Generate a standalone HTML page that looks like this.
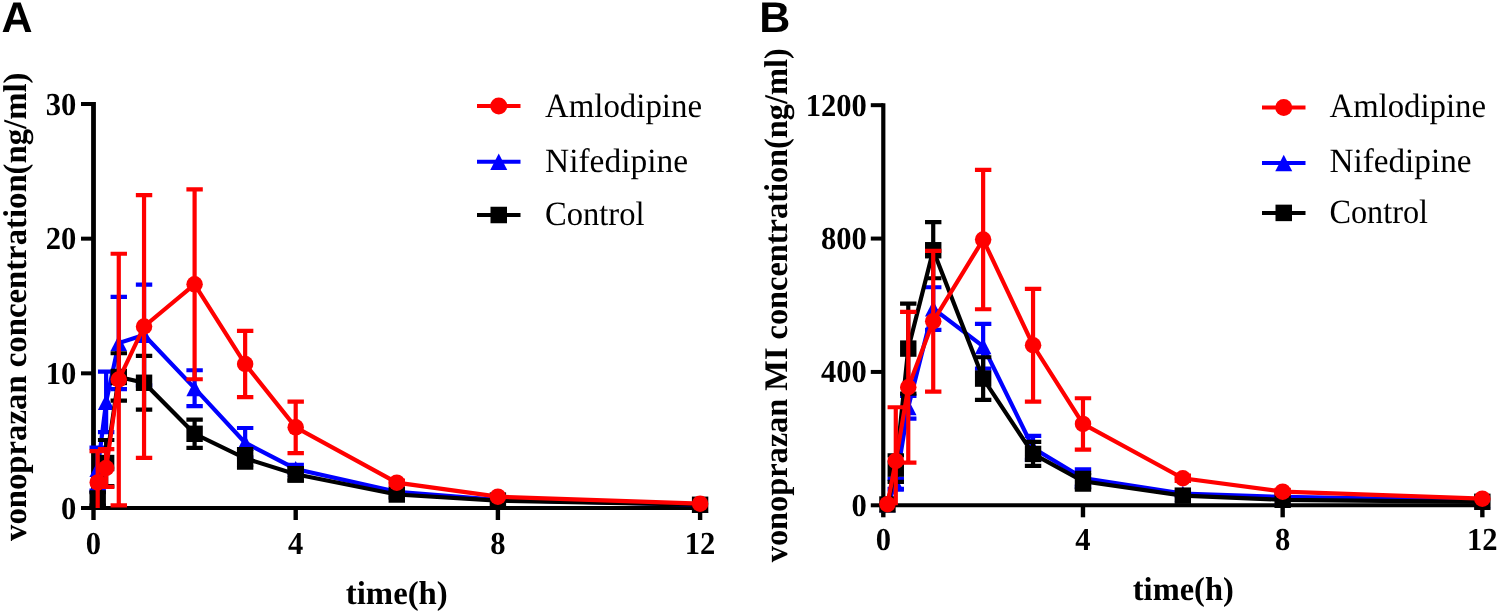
<!DOCTYPE html>
<html><head><meta charset="utf-8"><title>Vonoprazan PK</title><style>html,body{margin:0;padding:0;background:#fff;overflow:hidden}svg{display:block;will-change:transform}</style></head><body>
<svg width="1499" height="614" viewBox="0 0 1499 614">
<style>text{text-rendering:geometricPrecision;font-family:"Liberation Serif",serif;fill:#000}.b{font-weight:bold}.tk{font-weight:bold;font-size:32px}.leg{font-size:34px}.lab{font-weight:bold;font-size:33px}.pl{font-family:"Liberation Sans",sans-serif;font-weight:bold;font-size:43px}</style>
<rect width="1499" height="614" fill="#fff"/>
<text class="pl" x="1.6" y="32.2">A</text>
<text class="pl" x="759.3" y="32.2">B</text>
<path d="M93.5 101.99 V510" stroke="#000" stroke-width="4.8" fill="none"/>
<path d="M91.1 508 H702" stroke="#000" stroke-width="4" fill="none"/>
<path d="M81 508 H93.5" stroke="#000" stroke-width="4" fill="none"/>
<path d="M81 373.33 H93.5" stroke="#000" stroke-width="4" fill="none"/>
<path d="M81 238.66 H93.5" stroke="#000" stroke-width="4" fill="none"/>
<path d="M81 103.99 H93.5" stroke="#000" stroke-width="4" fill="none"/>
<path d="M93.5 508 V520" stroke="#000" stroke-width="4.4" fill="none"/>
<path d="M295.7 508 V520" stroke="#000" stroke-width="4.4" fill="none"/>
<path d="M497.9 508 V520" stroke="#000" stroke-width="4.4" fill="none"/>
<path d="M700.1 508 V520" stroke="#000" stroke-width="4.4" fill="none"/>
<text class="tk" transform="translate(76.3 518.6) scale(0.955 1)" text-anchor="end">0</text>
<text class="tk" transform="translate(76.3 383.93) scale(0.955 1)" text-anchor="end">10</text>
<text class="tk" transform="translate(76.3 249.26) scale(0.955 1)" text-anchor="end">20</text>
<text class="tk" transform="translate(76.3 114.59) scale(0.955 1)" text-anchor="end">30</text>
<text class="tk" transform="translate(93.5 553.7) scale(0.955 1)" text-anchor="middle">0</text>
<text class="tk" transform="translate(295.7 553.7) scale(0.955 1)" text-anchor="middle">4</text>
<text class="tk" transform="translate(497.9 553.7) scale(0.955 1)" text-anchor="middle">8</text>
<text class="tk" transform="translate(700.1 553.7) scale(0.955 1)" text-anchor="middle">12</text>
<text class="lab" transform="translate(26 541) rotate(-90)" textLength="468.5" lengthAdjust="spacingAndGlyphs">vonoprazan concentration(ng/ml)</text>
<text class="lab" x="345.8" y="604" textLength="102" lengthAdjust="spacingAndGlyphs">time(h)</text>
<path d="M477 106 H520.5" stroke="#ff0000" stroke-width="4" fill="none"/>
<circle cx="498.75" cy="106" r="8.5" fill="#ff0000"/>
<text x="545" y="116.6" class="leg" textLength="157" lengthAdjust="spacingAndGlyphs">Amlodipine</text>
<path d="M477 161.8 H520.5" stroke="#0000ff" stroke-width="4" fill="none"/>
<path d="M498.75 153.56 L507.25 170.05 L490.25 170.05 Z" fill="#0000ff"/>
<text x="545" y="171.6" class="leg" textLength="143" lengthAdjust="spacingAndGlyphs">Nifedipine</text>
<path d="M477 215 H520.5" stroke="#000000" stroke-width="4" fill="none"/>
<rect x="490.5" y="206.75" width="16.5" height="16.5" fill="#000000"/>
<text x="545" y="224.6" class="leg" textLength="99.5" lengthAdjust="spacingAndGlyphs">Control</text>
<path d="M97.7 469.08 L106.14 401.88 L118.78 343.03 L144.05 334.95 L194.6 388.14 L245.15 442.69 L295.7 468.95 L396.8 491.84 L497.9 499.92 L700.1 504.63" fill="none" stroke="#0000ff" stroke-width="4.2" stroke-linejoin="miter"/>
<path d="M97.7 447.53 V490.63 M89.5 447.53 H105.9 M89.5 490.63 H105.9 M106.14 371.58 V432.18 M97.94 371.58 H114.34 M97.94 432.18 H114.34 M118.78 296.97 V389.09 M110.58 296.97 H126.98 M110.58 389.09 H126.98 M144.05 284.58 V385.32 M135.85 284.58 H152.25 M135.85 385.32 H152.25 M194.6 370.23 V406.05 M186.4 370.23 H202.8 M186.4 406.05 H202.8 M245.15 428.01 V457.36 M236.95 428.01 H253.35 M236.95 457.36 H253.35 M295.7 464.91 V472.99 M287.5 464.91 H303.9 M287.5 472.99 H303.9" fill="none" stroke="#0000ff" stroke-width="4.2"/>
<path d="M97.7 461.08 L105.95 477.08 L89.45 477.08 Z" fill="#0000ff"/>
<path d="M106.14 393.88 L114.39 409.88 L97.89 409.88 Z" fill="#0000ff"/>
<path d="M118.78 335.03 L127.03 351.03 L110.53 351.03 Z" fill="#0000ff"/>
<path d="M144.05 326.95 L152.3 342.95 L135.8 342.95 Z" fill="#0000ff"/>
<path d="M194.6 380.14 L202.85 396.15 L186.35 396.15 Z" fill="#0000ff"/>
<path d="M245.15 434.68 L253.4 450.69 L236.9 450.69 Z" fill="#0000ff"/>
<path d="M295.7 460.94 L303.95 476.95 L287.45 476.95 Z" fill="#0000ff"/>
<path d="M396.8 483.84 L405.05 499.84 L388.55 499.84 Z" fill="#0000ff"/>
<path d="M497.9 491.92 L506.15 507.92 L489.65 507.92 Z" fill="#0000ff"/>
<path d="M700.1 496.63 L708.35 512.64 L691.85 512.64 Z" fill="#0000ff"/>
<path d="M97.7 498.98 L106.14 463.02 L118.78 376.97 L144.05 382.76 L194.6 433.8 L245.15 458.31 L295.7 474.33 L396.8 494.53 L497.9 500.59 L700.1 504.77" fill="none" stroke="#000000" stroke-width="4.2" stroke-linejoin="miter"/>
<path d="M97.7 492.24 V505.71 M89.5 492.24 H105.9 M89.5 505.71 H105.9 M106.14 439.99 V486.05 M97.94 439.99 H114.34 M97.94 486.05 H114.34 M118.78 353.26 V400.67 M110.58 353.26 H126.98 M110.58 400.67 H126.98 M144.05 355.82 V409.69 M135.85 355.82 H152.25 M135.85 409.69 H152.25 M194.6 419.66 V447.94 M186.4 419.66 H202.8 M186.4 447.94 H202.8 M245.15 449.01 V467.6 M236.95 449.01 H253.35 M236.95 467.6 H253.35 M295.7 468.14 V480.53 M287.5 468.14 H303.9 M287.5 480.53 H303.9 M396.8 491.84 V497.23 M388.6 491.84 H405 M388.6 497.23 H405" fill="none" stroke="#000000" stroke-width="4.2"/>
<rect x="89.5" y="490.78" width="16.4" height="16.4" fill="#000000"/>
<rect x="97.94" y="454.82" width="16.4" height="16.4" fill="#000000"/>
<rect x="110.58" y="368.77" width="16.4" height="16.4" fill="#000000"/>
<rect x="135.85" y="374.56" width="16.4" height="16.4" fill="#000000"/>
<rect x="186.4" y="425.6" width="16.4" height="16.4" fill="#000000"/>
<rect x="236.95" y="450.11" width="16.4" height="16.4" fill="#000000"/>
<rect x="287.5" y="466.13" width="16.4" height="16.4" fill="#000000"/>
<rect x="388.6" y="486.33" width="16.4" height="16.4" fill="#000000"/>
<rect x="489.7" y="492.39" width="16.4" height="16.4" fill="#000000"/>
<rect x="691.9" y="496.57" width="16.4" height="16.4" fill="#000000"/>
<path d="M97.7 482.41 L106.14 468 L118.78 379.52 L144.05 326.46 L194.6 284.31 L245.15 364.04 L295.7 427.33 L396.8 482.68 L497.9 496.69 L700.1 503.69" fill="none" stroke="#ff0000" stroke-width="4.2" stroke-linejoin="miter"/>
<path d="M97.7 451.03 V508 M89.5 451.03 H105.9 M106.14 449.15 V486.86 M97.94 449.15 H114.34 M97.94 486.86 H114.34 M118.78 253.74 V505.31 M110.58 253.74 H126.98 M110.58 505.31 H126.98 M144.05 195.03 V457.9 M135.85 195.03 H152.25 M135.85 457.9 H152.25 M194.6 189.37 V379.26 M186.4 189.37 H202.8 M186.4 379.26 H202.8 M245.15 330.91 V397.17 M236.95 330.91 H253.35 M236.95 397.17 H253.35 M295.7 401.61 V453.05 M287.5 401.61 H303.9 M287.5 453.05 H303.9 M396.8 480.66 V484.7 M388.6 480.66 H405 M388.6 484.7 H405" fill="none" stroke="#ff0000" stroke-width="4.2"/>
<circle cx="97.7" cy="482.41" r="8.25" fill="#ff0000"/>
<circle cx="106.14" cy="468" r="8.25" fill="#ff0000"/>
<circle cx="118.78" cy="379.52" r="8.25" fill="#ff0000"/>
<circle cx="144.05" cy="326.46" r="8.25" fill="#ff0000"/>
<circle cx="194.6" cy="284.31" r="8.25" fill="#ff0000"/>
<circle cx="245.15" cy="364.04" r="8.25" fill="#ff0000"/>
<circle cx="295.7" cy="427.33" r="8.25" fill="#ff0000"/>
<circle cx="396.8" cy="482.68" r="8.25" fill="#ff0000"/>
<circle cx="497.9" cy="496.69" r="8.25" fill="#ff0000"/>
<circle cx="700.1" cy="503.69" r="8.25" fill="#ff0000"/>
<path d="M883.3 103.18 V507.3" stroke="#000" stroke-width="4.2" fill="none"/>
<path d="M880.9 505.3 H1490" stroke="#000" stroke-width="4" fill="none"/>
<path d="M870.8 505.3 H883.3" stroke="#000" stroke-width="4" fill="none"/>
<path d="M870.8 371.93 H883.3" stroke="#000" stroke-width="4" fill="none"/>
<path d="M870.8 238.56 H883.3" stroke="#000" stroke-width="4" fill="none"/>
<path d="M870.8 105.18 H883.3" stroke="#000" stroke-width="4" fill="none"/>
<path d="M883.3 505.3 V517.3" stroke="#000" stroke-width="4.4" fill="none"/>
<path d="M1082.98 505.3 V517.3" stroke="#000" stroke-width="4.4" fill="none"/>
<path d="M1282.66 505.3 V517.3" stroke="#000" stroke-width="4.4" fill="none"/>
<path d="M1482.34 505.3 V517.3" stroke="#000" stroke-width="4.4" fill="none"/>
<text class="tk" transform="translate(866.8 515.8) scale(0.955 1)" text-anchor="end">0</text>
<text class="tk" transform="translate(866.8 382.43) scale(0.955 1)" text-anchor="end">400</text>
<text class="tk" transform="translate(866.8 249.06) scale(0.955 1)" text-anchor="end">800</text>
<text class="tk" transform="translate(866.8 115.68) scale(0.955 1)" text-anchor="end">1200</text>
<text class="tk" transform="translate(883.3 550.4) scale(0.955 1)" text-anchor="middle">0</text>
<text class="tk" transform="translate(1082.98 550.4) scale(0.955 1)" text-anchor="middle">4</text>
<text class="tk" transform="translate(1282.66 550.4) scale(0.955 1)" text-anchor="middle">8</text>
<text class="tk" transform="translate(1482.34 550.4) scale(0.955 1)" text-anchor="middle">12</text>
<text class="lab" transform="translate(786.8 562.3) rotate(-90)" textLength="514" lengthAdjust="spacingAndGlyphs">vonoprazan MI concentration(ng/ml)</text>
<text class="lab" x="1132.8" y="600" textLength="101" lengthAdjust="spacingAndGlyphs">time(h)</text>
<path d="M1262 107.4 H1305.5" stroke="#ff0000" stroke-width="4" fill="none"/>
<circle cx="1283.75" cy="107.4" r="8.5" fill="#ff0000"/>
<text x="1329.5" y="117.4" class="leg" textLength="156.5" lengthAdjust="spacingAndGlyphs">Amlodipine</text>
<path d="M1262 162.9 H1305.5" stroke="#0000ff" stroke-width="4" fill="none"/>
<path d="M1283.75 154.66 L1292.25 171.15 L1275.25 171.15 Z" fill="#0000ff"/>
<text x="1329.5" y="172.4" class="leg" textLength="142" lengthAdjust="spacingAndGlyphs">Nifedipine</text>
<path d="M1262 212.9 H1305.5" stroke="#000000" stroke-width="4" fill="none"/>
<rect x="1275.5" y="204.65" width="16.5" height="16.5" fill="#000000"/>
<text x="1329.5" y="222.8" class="leg" textLength="98.5" lengthAdjust="spacingAndGlyphs">Control</text>
<path d="M887.44 504.3 L895.78 483.79 L908.26 407.27 L933.22 308.58 L983.14 346.25 L1033.06 447.95 L1082.98 477.96 L1182.82 493.63 L1282.66 496.96 L1482.34 500.3" fill="none" stroke="#0000ff" stroke-width="4.2" stroke-linejoin="miter"/>
<path d="M895.78 478.79 V488.8 M887.58 478.79 H903.98 M887.58 488.8 H903.98 M908.26 395.93 V418.61 M900.06 395.93 H916.46 M900.06 418.61 H916.46 M933.22 287.24 V329.92 M925.02 287.24 H941.42 M925.02 329.92 H941.42 M983.14 323.91 V368.59 M974.94 323.91 H991.34 M974.94 368.59 H991.34 M1033.06 435.95 V459.95 M1024.86 435.95 H1041.26 M1024.86 459.95 H1041.26 M1082.98 469.29 V486.63 M1074.78 469.29 H1091.18 M1074.78 486.63 H1091.18 M1182.82 491.96 V495.3 M1174.62 491.96 H1191.02 M1174.62 495.3 H1191.02" fill="none" stroke="#0000ff" stroke-width="4.2"/>
<path d="M887.44 496.3 L895.69 512.3 L879.19 512.3 Z" fill="#0000ff"/>
<path d="M895.78 475.79 L904.03 491.8 L887.53 491.8 Z" fill="#0000ff"/>
<path d="M908.26 399.27 L916.51 415.27 L900.01 415.27 Z" fill="#0000ff"/>
<path d="M933.22 300.57 L941.47 316.58 L924.97 316.58 Z" fill="#0000ff"/>
<path d="M983.14 338.25 L991.39 354.26 L974.89 354.26 Z" fill="#0000ff"/>
<path d="M1033.06 439.95 L1041.31 455.95 L1024.81 455.95 Z" fill="#0000ff"/>
<path d="M1082.98 469.96 L1091.23 485.96 L1074.73 485.96 Z" fill="#0000ff"/>
<path d="M1182.82 485.63 L1191.07 501.63 L1174.57 501.63 Z" fill="#0000ff"/>
<path d="M1282.66 488.96 L1290.91 504.97 L1274.41 504.97 Z" fill="#0000ff"/>
<path d="M1482.34 492.3 L1490.59 508.3 L1474.09 508.3 Z" fill="#0000ff"/>
<path d="M887.44 504.5 L895.78 468.62 L908.26 348.59 L933.22 250.23 L983.14 378.6 L1033.06 453.95 L1082.98 481.29 L1182.82 495.63 L1282.66 499.8 L1482.34 501.8" fill="none" stroke="#000000" stroke-width="4.2" stroke-linejoin="miter"/>
<path d="M895.78 455.29 V481.96 M887.58 455.29 H903.98 M887.58 481.96 H903.98 M908.26 303.57 V393.6 M900.06 303.57 H916.46 M900.06 393.6 H916.46 M933.22 222.22 V278.23 M925.02 222.22 H941.42 M925.02 278.23 H941.42 M983.14 357.26 V399.94 M974.94 357.26 H991.34 M974.94 399.94 H991.34 M1033.06 441.95 V465.96 M1024.86 441.95 H1041.26 M1024.86 465.96 H1041.26 M1082.98 472.96 V489.63 M1074.78 472.96 H1091.18 M1074.78 489.63 H1091.18" fill="none" stroke="#000000" stroke-width="4.2"/>
<rect x="879.24" y="496.3" width="16.4" height="16.4" fill="#000000"/>
<rect x="887.58" y="460.42" width="16.4" height="16.4" fill="#000000"/>
<rect x="900.06" y="340.39" width="16.4" height="16.4" fill="#000000"/>
<rect x="925.02" y="242.03" width="16.4" height="16.4" fill="#000000"/>
<rect x="974.94" y="370.4" width="16.4" height="16.4" fill="#000000"/>
<rect x="1024.86" y="445.75" width="16.4" height="16.4" fill="#000000"/>
<rect x="1074.78" y="473.09" width="16.4" height="16.4" fill="#000000"/>
<rect x="1174.62" y="487.43" width="16.4" height="16.4" fill="#000000"/>
<rect x="1274.46" y="491.6" width="16.4" height="16.4" fill="#000000"/>
<rect x="1474.14" y="493.6" width="16.4" height="16.4" fill="#000000"/>
<path d="M887.44 504.2 L895.78 460.95 L908.26 387.27 L933.22 321.25 L983.14 239.56 L1033.06 345.25 L1082.98 423.94 L1182.82 478.29 L1282.66 491.63 L1482.34 498.63" fill="none" stroke="#ff0000" stroke-width="4.2" stroke-linejoin="miter"/>
<path d="M895.78 407.27 V505.3 M887.58 407.27 H903.98 M908.26 311.91 V462.62 M900.06 311.91 H916.46 M900.06 462.62 H916.46 M933.22 250.89 V391.6 M925.02 250.89 H941.42 M925.02 391.6 H941.42 M983.14 169.87 V309.24 M974.94 169.87 H991.34 M974.94 309.24 H991.34 M1033.06 288.9 V401.6 M1024.86 288.9 H1041.26 M1024.86 401.6 H1041.26 M1082.98 398.27 V449.62 M1074.78 398.27 H1091.18 M1074.78 449.62 H1091.18 M1182.82 475.62 V480.96 M1174.62 475.62 H1191.02 M1174.62 480.96 H1191.02 M1282.66 489.96 V493.3 M1274.46 489.96 H1290.86 M1274.46 493.3 H1290.86" fill="none" stroke="#ff0000" stroke-width="4.2"/>
<circle cx="887.44" cy="504.2" r="8.25" fill="#ff0000"/>
<circle cx="895.78" cy="460.95" r="8.25" fill="#ff0000"/>
<circle cx="908.26" cy="387.27" r="8.25" fill="#ff0000"/>
<circle cx="933.22" cy="321.25" r="8.25" fill="#ff0000"/>
<circle cx="983.14" cy="239.56" r="8.25" fill="#ff0000"/>
<circle cx="1033.06" cy="345.25" r="8.25" fill="#ff0000"/>
<circle cx="1082.98" cy="423.94" r="8.25" fill="#ff0000"/>
<circle cx="1182.82" cy="478.29" r="8.25" fill="#ff0000"/>
<circle cx="1282.66" cy="491.63" r="8.25" fill="#ff0000"/>
<circle cx="1482.34" cy="498.63" r="8.25" fill="#ff0000"/>
</svg>
</body></html>
